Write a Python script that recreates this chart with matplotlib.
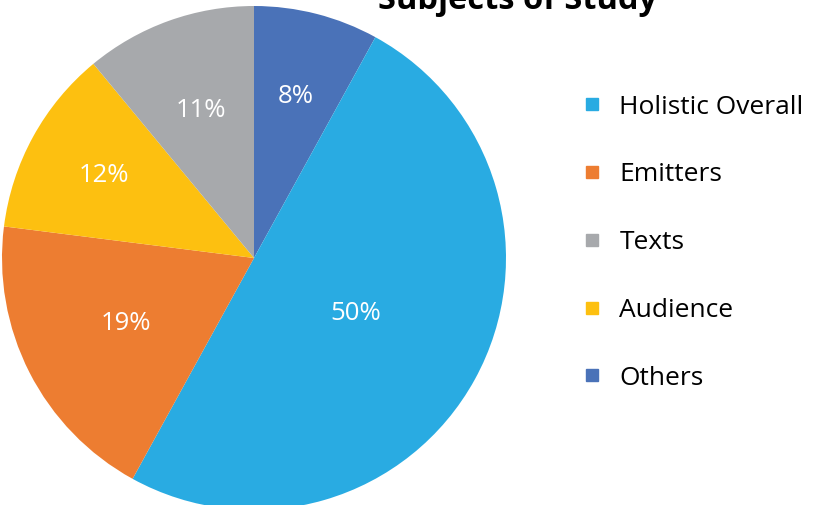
import matplotlib
matplotlib.use("Agg")
import numpy as np
import matplotlib.pyplot as plt
from matplotlib.lines import Line2D

plt.rcParams['font.family'] = ['Open Sans', 'DejaVu Sans']

# wedges, clockwise from 12 o'clock
labels = ["Others", "Holistic Overall", "Emitters", "Audience", "Texts"]
values = [8, 50, 19, 12, 11]
colors = ["#4A72B8", "#29ABE2", "#ED7D31", "#FDC010", "#A7A9AC"]
label_dist = [0.66, 0.46, 0.57, 0.68, 0.62]

legend_order = ["Holistic Overall", "Emitters", "Texts", "Audience", "Others"]

W, H = 816, 505
fig = plt.figure(figsize=(W/100, H/100), dpi=100)

cx, cy, r = 254, 258, 252
ax = fig.add_axes([(cx-r)/W, (H-cy-r)/H, 2*r/W, 2*r/H])
wedges, _ = ax.pie(values, colors=colors, startangle=90, counterclock=False,
                   wedgeprops=dict(linewidth=0))
ax.set_xlim(-1, 1)
ax.set_ylim(-1, 1)

for w, v, d in zip(wedges, values, label_dist):
    ang = np.deg2rad((w.theta1 + w.theta2) / 2)
    ax.text(d*np.cos(ang), d*np.sin(ang), f"{v}%", color="white",
            fontsize=18.5, ha="center", va="center")

fig.text(518/W, 1 - 9/H, "Subjects of Study", fontsize=23.5, fontweight="bold",
         ha="center", va="baseline")

handles = []
for name in legend_order:
    c = colors[labels.index(name)]
    handles.append(Line2D([], [], marker="s", linestyle="none", color=c,
                          markersize=9, label=name))
fig.legend(handles=handles, loc="upper left", bbox_to_anchor=(568/W, 1 - 84/H),
           frameon=False, fontsize=19, labelspacing=1.62, handletextpad=0.55,
           handlelength=1.0, borderaxespad=0)

fig.savefig("out.png", dpi=100)
